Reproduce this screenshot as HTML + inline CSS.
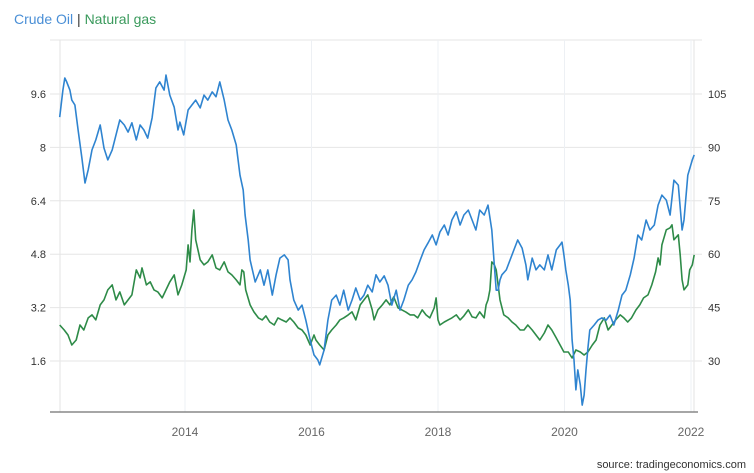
<!DOCTYPE html>
<html><head><meta charset="utf-8"><style>
body{margin:0;background:#fff;font-family:"Liberation Sans",sans-serif;}
#wrap{position:relative;width:754px;height:473px;overflow:hidden;}
</style></head><body>
<div id="wrap">
<svg id="chart" width="754" height="473" xmlns="http://www.w3.org/2000/svg">
<text x="14" y="24" font-size="14" font-family="Liberation Sans, sans-serif"><tspan fill="#4a8fd6">Crude Oil</tspan><tspan fill="#333"> | </tspan><tspan fill="#3a9a5c">Natural gas</tspan></text>
<g id="grid"></g><g id="axes"></g><g id="series"></g>
<text x="746" y="468" text-anchor="end" font-size="11" fill="#333">source: tradingeconomics.com</text>
</svg>
</div>
<script>
const oilDates=[2012.02,2012.07,2012.10,2012.13,2012.18,2012.21,2012.26,2012.31,2012.37,2012.42,2012.47,2012.53,2012.59,2012.66,2012.72,2012.78,2012.85,2012.91,2012.97,2013.04,2013.10,2013.16,2013.23,2013.29,2013.35,2013.41,2013.48,2013.54,2013.60,2013.67,2013.70,2013.76,2013.83,2013.89,2013.92,2013.98,2014.05,2014.11,2014.17,2014.24,2014.30,2014.36,2014.43,2014.49,2014.55,2014.62,2014.68,2014.74,2014.81,2014.87,2014.92,2014.95,2015.00,2015.03,2015.11,2015.19,2015.25,2015.31,2015.38,2015.44,2015.50,2015.57,2015.63,2015.66,2015.72,2015.79,2015.85,2015.91,2015.98,2016.04,2016.10,2016.13,2016.20,2016.26,2016.32,2016.39,2016.45,2016.51,2016.58,2016.64,2016.70,2016.77,2016.83,2016.89,2016.96,2017.02,2017.08,2017.15,2017.21,2017.27,2017.34,2017.40,2017.46,2017.53,2017.59,2017.65,2017.72,2017.78,2017.84,2017.91,2017.97,2018.03,2018.10,2018.16,2018.22,2018.29,2018.35,2018.41,2018.48,2018.54,2018.60,2018.66,2018.73,2018.79,2018.85,2018.89,2018.92,2018.95,2018.98,2019.01,2019.08,2019.14,2019.20,2019.26,2019.33,2019.39,2019.42,2019.49,2019.55,2019.61,2019.68,2019.74,2019.80,2019.87,2019.93,2019.96,2019.99,2020.02,2020.06,2020.09,2020.12,2020.15,2020.18,2020.21,2020.25,2020.28,2020.31,2020.34,2020.37,2020.40,2020.47,2020.53,2020.59,2020.66,2020.72,2020.78,2020.85,2020.91,2020.97,2021.04,2021.10,2021.16,2021.22,2021.29,2021.35,2021.42,2021.48,2021.54,2021.61,2021.67,2021.73,2021.80,2021.86,2021.89,2021.95,2022.02,2022.05];
const oilValues=[98.5,106.1,109.5,108.4,106.1,103.3,101.9,94.9,87.0,80.0,83.7,89.3,92.1,96.3,89.8,86.5,89.3,93.5,97.7,96.3,94.3,96.9,92.1,96.3,94.9,92.6,98.3,106.7,108.4,106.1,110.3,104.7,101.3,94.9,97.1,93.5,100.5,101.9,103.3,101.1,104.7,103.3,105.6,104.2,108.4,103.3,97.7,94.9,90.7,82.2,78.0,71.0,64.0,58.4,52.2,55.6,51.3,55.6,48.5,54.2,58.9,59.8,58.4,52.8,47.1,44.3,45.7,41.5,35.9,31.7,30.3,28.9,33.1,41.5,47.1,48.5,45.7,49.9,44.3,47.1,50.5,47.1,48.5,51.3,49.4,54.2,52.2,53.9,51.3,45.7,49.9,44.3,47.1,51.3,52.8,55.0,58.4,61.2,63.1,65.4,62.6,66.2,68.2,65.4,69.6,71.9,68.2,71.0,72.4,69.6,66.8,72.4,71.0,73.8,66.8,57.0,49.9,49.9,52.8,54.2,55.6,58.4,61.2,64.0,61.7,57.0,52.8,58.9,55.6,57.0,55.6,59.8,55.6,61.2,62.6,63.4,59.8,55.6,51.3,47.1,35.9,30.3,21.9,27.5,23.3,17.6,20.4,27.5,33.6,38.7,40.1,41.5,42.1,41.5,42.9,40.1,44.3,48.5,49.9,54.2,58.9,65.4,64.0,69.6,66.8,68.2,73.8,76.6,75.2,71.0,80.8,79.4,66.8,69.6,82.2,86.5,87.9];
const gasDates=[2012.02,2012.09,2012.15,2012.21,2012.28,2012.34,2012.40,2012.47,2012.53,2012.59,2012.66,2012.72,2012.78,2012.85,2012.91,2012.97,2013.04,2013.10,2013.16,2013.23,2013.29,2013.32,2013.39,2013.45,2013.51,2013.57,2013.64,2013.70,2013.76,2013.83,2013.89,2013.95,2014.02,2014.05,2014.08,2014.11,2014.14,2014.17,2014.24,2014.30,2014.36,2014.43,2014.49,2014.55,2014.62,2014.68,2014.74,2014.81,2014.87,2014.90,2014.93,2014.96,2015.03,2015.09,2015.16,2015.22,2015.28,2015.34,2015.41,2015.47,2015.53,2015.60,2015.66,2015.72,2015.79,2015.85,2015.91,2015.98,2016.04,2016.07,2016.13,2016.20,2016.26,2016.32,2016.39,2016.45,2016.51,2016.58,2016.64,2016.70,2016.77,2016.83,2016.89,2016.96,2016.99,2017.05,2017.12,2017.18,2017.24,2017.30,2017.37,2017.43,2017.49,2017.56,2017.62,2017.68,2017.75,2017.81,2017.87,2017.94,2017.97,2018.00,2018.03,2018.10,2018.16,2018.22,2018.29,2018.35,2018.41,2018.48,2018.54,2018.60,2018.66,2018.73,2018.76,2018.79,2018.82,2018.85,2018.89,2018.92,2018.95,2018.98,2019.04,2019.11,2019.17,2019.23,2019.30,2019.36,2019.42,2019.49,2019.55,2019.61,2019.68,2019.74,2019.80,2019.87,2019.93,2019.99,2020.06,2020.12,2020.18,2020.25,2020.31,2020.37,2020.44,2020.50,2020.56,2020.63,2020.69,2020.75,2020.81,2020.88,2020.94,2021.00,2021.06,2021.13,2021.19,2021.25,2021.32,2021.38,2021.44,2021.48,2021.51,2021.54,2021.61,2021.67,2021.70,2021.73,2021.80,2021.83,2021.86,2021.89,2021.95,2021.98,2022.02,2022.05];
const gasValues=[2.68,2.53,2.38,2.08,2.23,2.68,2.53,2.89,2.98,2.83,3.28,3.43,3.73,3.88,3.43,3.67,3.28,3.43,3.58,4.33,4.09,4.39,3.88,3.97,3.73,3.67,3.49,3.73,3.97,4.18,3.58,3.88,4.33,5.08,4.57,5.53,6.12,5.23,4.63,4.48,4.57,4.78,4.39,4.33,4.57,4.27,4.18,4.03,3.88,4.33,4.27,3.73,3.28,3.07,2.89,2.83,2.95,2.77,2.68,2.89,2.83,2.77,2.89,2.77,2.59,2.53,2.38,2.08,2.38,2.23,2.08,1.93,2.38,2.53,2.68,2.83,2.89,2.98,3.07,2.83,3.28,3.43,3.58,3.13,2.83,3.13,3.28,3.43,3.28,3.52,3.19,3.13,3.07,2.98,2.98,2.89,3.13,2.98,2.89,3.19,3.49,2.83,2.68,2.77,2.83,2.89,2.98,2.83,2.95,3.13,2.92,2.89,3.07,2.89,3.28,3.43,3.73,4.57,4.48,4.33,3.88,3.43,2.98,2.89,2.77,2.68,2.53,2.53,2.68,2.53,2.38,2.23,2.44,2.68,2.53,2.29,2.08,1.87,1.87,1.69,1.93,1.87,1.78,1.87,2.08,2.23,2.68,2.89,2.53,2.68,2.83,2.98,2.89,2.77,2.89,3.13,3.28,3.49,3.58,3.88,4.27,4.69,4.48,5.08,5.53,5.59,5.68,5.23,5.38,4.78,4.03,3.73,3.88,4.33,4.48,4.78];
const leftTicks=[1.6,3.2,4.8,6.4,8,9.6];
const rightTicks=[30,45,60,75,90,105];
const yearTicks=[2014,2016,2018,2020,2022];

const NS="http://www.w3.org/2000/svg";
const X0=60,X1=694,YT=40,YB=412;
function xScale(t){return 60+(t-2012.024)/0.01581;}
function yLeft(v){return 361-(v-1.6)*53.4/1.6;}
function yRight(v){return 361-(v-30)*53.4/15;}
function mk(tag,attrs,parent){const e=document.createElementNS(NS,tag);for(const k in attrs)e.setAttribute(k,attrs[k]);parent.appendChild(e);return e;}
const grid=document.getElementById('grid'),axes=document.getElementById('axes'),ser=document.getElementById('series');
mk('line',{x1:50,x2:702,y1:YT,y2:YT,stroke:'#e6e6e6'},grid);
mk('line',{x1:X0,x2:X0,y1:YT,y2:YB,stroke:'#e3e3e3'},grid);
mk('line',{x1:X1,x2:X1,y1:YT,y2:YB,stroke:'#e3e3e3'},grid);
leftTicks.forEach((v,i)=>{
  const y=yLeft(v);
  const g=mk('line',{x1:50,x2:702,y1:y,y2:y,stroke:'#e6e6e6'},grid);
  
  
  const t=mk('text',{x:46,y:y+4,'text-anchor':'end','font-size':11,fill:'#333'},axes);
  t.textContent=String(v);
  
  
  const r=mk('text',{x:708,y:y+4,'font-size':11,fill:'#333'},axes);
  r.textContent=String(rightTicks[i]);
  
  
});
yearTicks.forEach(yr=>{
  const x=xScale(yr);
  const g=mk('line',{x1:x,x2:x,y1:YT,y2:YB,stroke:'#edf0f4'},grid);
  
  
  const t=mk('text',{x:x,y:436,'text-anchor':'middle','font-size':12,fill:'#666'},axes);
  t.textContent=String(yr);
  
  
});
const ax=mk('line',{x1:50,x2:698,y1:YB,y2:YB,stroke:'#888','stroke-width':1.5},axes);


function path(dates,vals,ys){return dates.map((d,i)=>(i?'L':'M')+xScale(d).toFixed(1)+','+ys(vals[i]).toFixed(1)).join('');}
const pg=mk('path',{d:path(gasDates,gasValues,yLeft),fill:'none',stroke:'#2e8b48','stroke-width':1.6,'stroke-linejoin':'round'},ser);


const po=mk('path',{d:path(oilDates,oilValues,yRight),fill:'none',stroke:'#2f84d0','stroke-width':1.6,'stroke-linejoin':'round'},ser);


</script>
</body></html>
